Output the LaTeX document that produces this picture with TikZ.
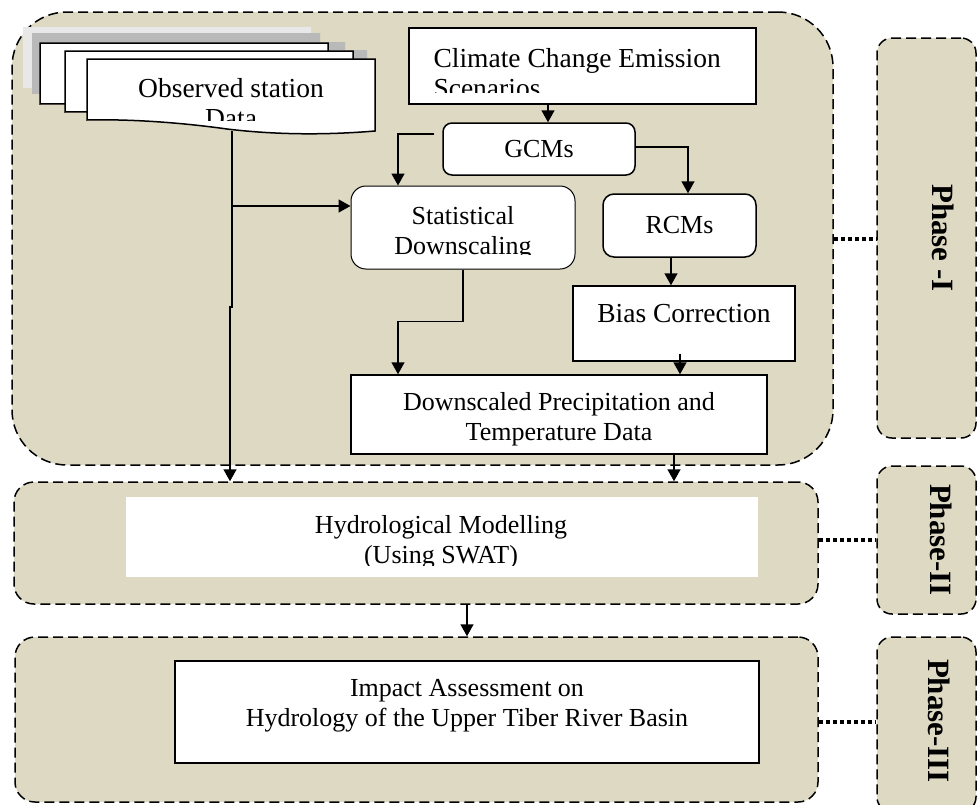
\documentclass[tikz,border=0pt]{standalone}
\usepackage{fontspec}
\setmainfont{Liberation Serif}
\usetikzlibrary{arrows.meta,calc}
\definecolor{phasebg}{RGB}{221,217,195}
\def\docsheet[#1](#2,#3)% Syntax: [draw options] (top left corner)
    { \begin{scope}[shift={(#2,#3)}]
        \draw[#1] (0,0) -- (288,0) -- (288,72) .. controls (240,76) and (190,76) .. (140,70)
            .. controls (90,63) and (40,60) .. (0,61) -- cycle;
      \end{scope} }

\begin{document}
\begin{tikzpicture}
    [x=1pt,y=-1pt,
     phasebox/.style={draw,line width=1.5pt,dash pattern=on 10pt off 5pt,fill=phasebg,inner sep=0pt},
     box/.style={draw,line width=1.5pt,fill=white,inner sep=0pt},
     rbox/.style={box,rounded corners=9pt},
     tfont/.style={font=\fontsize{26}{30}\selectfont},
     bigfont/.style={font=\fontsize{27.5}{30}\selectfont},
     arr/.style={line width=1.5pt,-{Triangle[length=12pt,width=13pt]}},
     dotlink/.style={line width=4pt,dash pattern=on 4pt off 3pt},
     phaselabel/.style={font=\fontsize{31}{31}\selectfont\bfseries,rotate=-90}]

    % phase frames
    \node[phasebox,rounded corners=55pt,minimum width=821pt,minimum height=453pt] (ph1) at (422.5,238.5) {};
    \node[phasebox,rounded corners=20pt,minimum width=804pt,minimum height=122pt] (ph2) at (416,543) {};
    \node[phasebox,rounded corners=20pt,minimum width=803pt,minimum height=165pt] (ph3) at (416.5,719.5) {};
    \node[phasebox,rounded corners=15pt,minimum width=99pt,minimum height=400pt] (lab1) at (926.5,238) {};
    \node[phasebox,rounded corners=15pt,minimum width=99pt,minimum height=148pt] (lab2) at (926.5,540) {};
    \node[phasebox,rounded corners=15pt,minimum width=99pt,minimum height=175pt] (lab3) at (926.5,724.5) {};
    \node[phaselabel] (p1) at (943,238) {Phase -I};
    \node[phaselabel] (p2) at (941,540) {Phase-II};
    \node[phaselabel] (p3) at (939,721) {Phase-III};

    \draw[dotlink] (ph1.east) -- (ph1.east -| lab1.west);
    \draw[dotlink] ([yshift=3pt]ph2.east) -- ([yshift=3pt]ph2.east -| lab2.west);
    \draw[dotlink] ([yshift=-2.5pt]ph3.east) -- ([yshift=-2.5pt]ph3.east -| lab3.west);

    % observed data sheets
    \docsheet[fill=gray!18,draw=none](23,27)
    \docsheet[fill=gray!55,draw=none](32,33)
    \docsheet[fill=gray!55,draw=none](57,42)
    \docsheet[fill=gray!55,draw=none](79,50)
    \docsheet[fill=white,line width=1.5pt](40,43)
    \docsheet[fill=white,line width=1.5pt](65,51)
    \docsheet[fill=white,line width=1.5pt](87,59)
    \coordinate (obs) at (232,131);
    \begin{scope}
        \clip (87,59) rectangle (375,120);
        \node[bigfont,align=center] (obstext) at (231,103) {Observed station\\Data};
    \end{scope}

    % phase I boxes
    \node[box,minimum width=347pt,minimum height=76pt] (climate) at (582.5,66) {};
    \begin{scope}
        \clip (409,28) rectangle (756,92);
        \node[bigfont,align=left,anchor=west] (climatetext) at (430,73) {Climate Change Emission\\Scenarios};
    \end{scope}
    \node[rbox,minimum width=192pt,minimum height=52pt,tfont] (gcm) at (539,149) {GCMs};
    \node[rbox,line width=1pt,rounded corners=15pt,minimum width=224pt,minimum height=83pt] (stat) at (463,227.5) {};
    \begin{scope}
        \clip (351,186) rectangle (575,254);
        \node[tfont,align=center] (stattext) at (463,233) {Statistical\\Downscaling};
    \end{scope}
    \node[rbox,rounded corners=11pt,minimum width=153pt,minimum height=63pt,tfont] (rcm) at (679.5,225.5) {RCMs};
    \node[box,minimum width=222pt,minimum height=75pt] (bias) at (684,323.5) {};
    \node[bigfont] (biastext) at (684,314) {Bias Correction};
    \node[box,minimum width=416pt,minimum height=79pt] (down) at (559,414.5) {};
    \node[tfont,align=center] (downtext) at (559,419) {Downscaled Precipitation and\\Temperature Data};

    % phase II and III boxes
    \node[fill=white,inner sep=0pt,minimum width=632pt,minimum height=80pt] (hydro) at (442,537) {};
    \begin{scope}
        \clip (126,497) rectangle (758,565);
        \node[tfont,align=center] (hydrotext) at (441,542) {Hydrological Modelling\\(Using SWAT)};
    \end{scope}
    \node[box,minimum width=584pt,minimum height=102pt] (impact) at (467,712) {};
    \node[tfont,align=center] (impacttext) at (467,706) {Impact Assessment on\\Hydrology of the Upper Tiber River Basin};

    % connectors
    \draw[arr] ([xshift=-34.5pt]climate.south) -- ([xshift=9pt]gcm.north);
    \draw[arr] ([shift={(-8pt,15pt)}]gcm.west) -| ([xshift=-65pt]stat.north);
    \draw[arr] ([yshift=2pt]gcm.east) -| ([xshift=8.5pt]rcm.north);
    \draw[arr] (obs) |- ([yshift=21.5pt]stat.west);
    \draw[arr] (obs) -- (232,307) -- (230,307) -- ([xshift=-186pt]ph2.north);
    \draw[arr] ([xshift=-8.5pt]rcm.south) -- ([xshift=-13pt]bias.north);
    \draw[arr] (stat.south) -- ++(0,52) -| ([xshift=-161pt]down.north);
    \draw[arr] ([shift={(-4pt,8pt)}]bias.south) -- ([xshift=121pt]down.north);
    \draw[arr] ([xshift=115pt]down.south) -- ([xshift=258pt]ph2.north);
    \draw[arr] ([xshift=51pt]ph2.south) -- ([xshift=50.5pt]ph3.north);

    \pgfresetboundingbox
    \useasboundingbox (0,0) rectangle (978,804);
\end{tikzpicture}
\end{document}
